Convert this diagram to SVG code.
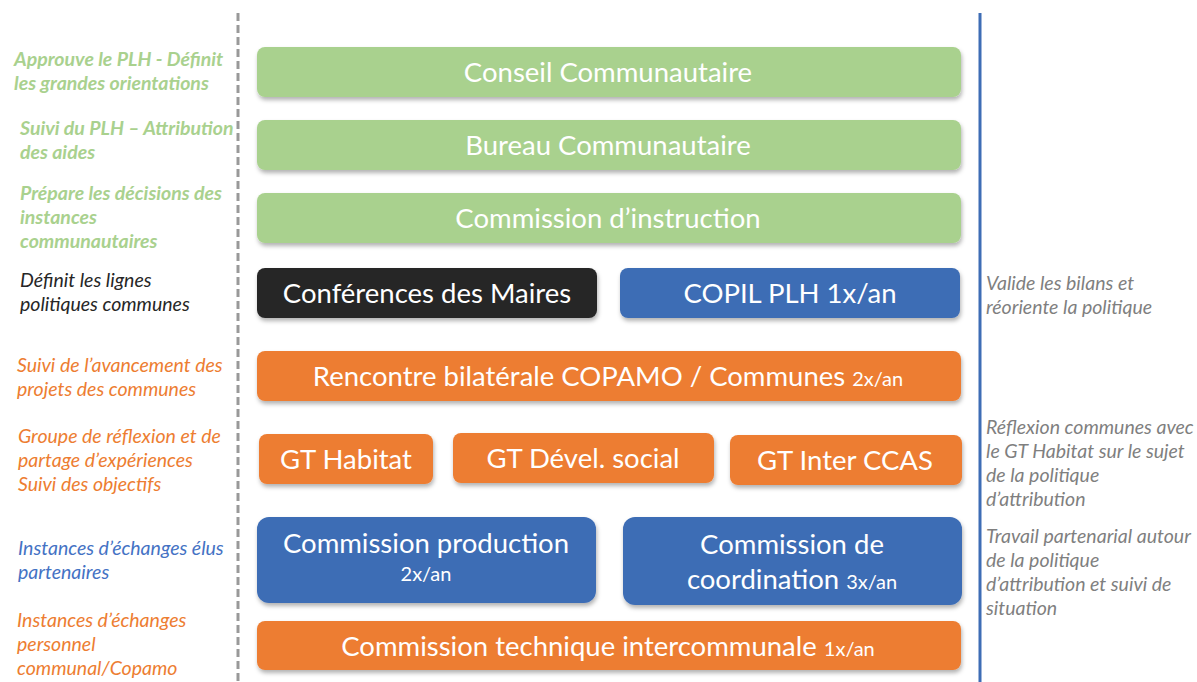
<svg xmlns="http://www.w3.org/2000/svg" width="1197" height="682" viewBox="0 0 1197 682">
<defs>
<filter id="sh" x="-5%" y="-20%" width="110%" height="150%">
<feDropShadow dx="1" dy="3" stdDeviation="2" flood-color="#000" flood-opacity="0.3"/>
</filter>
<style>
.box{filter:url(#sh);}
.g{fill:#A9D18E;}
.o{fill:#ED7D31;}
.b{fill:#3E6DB5;}
.k{fill:#262626;}
.t{font-family:Lato,"Open Sans",sans-serif;font-size:27.5px;fill:#fff;text-anchor:middle;}
.s{font-size:20px;}
.l{font-family:Lato,"Open Sans",sans-serif;font-size:19.5px;font-style:italic;}
.lg{fill:#A9D18E;font-weight:bold;}
.lk{fill:#262626;}
.lo{fill:#ED7D31;}
.lb{fill:#4472C4;}
.r{fill:#7F7F7F;}
</style>
</defs>
<rect width="1197" height="682" fill="#fff"/>
<g id="connectors">
<line x1="238" y1="13" x2="238" y2="682" stroke="#999" stroke-width="3" stroke-dasharray="8 4"/>
<line x1="980" y1="13" x2="980" y2="682" stroke="#3E6DB5" stroke-width="3"/>
</g>
<g id="left-labels" class="l">
<text class="lg" x="14" y="66">Approuve le PLH - Définit</text>
<text class="lg" x="14" y="90">les grandes orientations</text>
<text class="lg" x="20" y="135">Suivi du PLH – Attribution</text>
<text class="lg" x="20" y="159">des aides</text>
<text class="lg" x="20" y="200">Prépare les décisions des</text>
<text class="lg" x="20" y="224">instances</text>
<text class="lg" x="20" y="248">communautaires</text>
<text class="lk" x="20" y="287">Définit les lignes</text>
<text class="lk" x="20" y="311">politiques communes</text>
<text class="lo" x="17" y="372">Suivi de l’avancement des</text>
<text class="lo" x="17" y="396">projets des communes</text>
<text class="lo" x="18" y="443">Groupe de réflexion et de</text>
<text class="lo" x="18" y="467">partage d’expériences</text>
<text class="lo" x="18" y="491">Suivi des objectifs</text>
<text class="lb" x="18" y="555">Instances d’échanges élus</text>
<text class="lb" x="18" y="579">partenaires</text>
<text class="lo" x="17" y="627">Instances d’échanges</text>
<text class="lo" x="17" y="651">personnel</text>
<text class="lo" x="17" y="675">communal/Copamo</text>
</g>
<g id="right-labels" class="l r">
<text x="986" y="290">Valide les bilans et</text>
<text x="986" y="314">réoriente la politique</text>
<text x="986" y="434">Réflexion communes avec</text>
<text x="986" y="458">le GT Habitat sur le sujet</text>
<text x="986" y="482">de la politique</text>
<text x="986" y="506">d’attribution</text>
<text x="986" y="543">Travail partenarial autour</text>
<text x="986" y="567">de la politique</text>
<text x="986" y="591">d’attribution et suivi de</text>
<text x="986" y="615">situation</text>
</g>
<g id="conseil"><rect class="box g" x="257" y="47" width="704" height="50" rx="8"/><text class="t" x="608" y="82">Conseil Communautaire</text></g>
<g id="bureau"><rect class="box g" x="257" y="120" width="704" height="50" rx="8"/><text class="t" x="608" y="155">Bureau Communautaire</text></g>
<g id="instruction"><rect class="box g" x="257" y="193" width="704" height="50" rx="8"/><text class="t" x="608" y="228">Commission d’instruction</text></g>
<g id="maires"><rect class="box k" x="257" y="268" width="340" height="50" rx="8"/><text class="t" x="427" y="303">Conférences des Maires</text></g>
<g id="copil"><rect class="box b" x="620" y="268" width="340" height="50" rx="8"/><text class="t" x="790" y="303">COPIL PLH 1x/an</text></g>
<g id="rencontre"><rect class="box o" x="257" y="351" width="704" height="50" rx="8"/><text class="t" x="608" y="386">Rencontre bilatérale COPAMO / Communes <tspan class="s">2x/an</tspan></text></g>
<g id="gt-habitat"><rect class="box o" x="259" y="434" width="174" height="50" rx="8"/><text class="t" x="346" y="469">GT Habitat</text></g>
<g id="gt-devel"><rect class="box o" x="453" y="433" width="261" height="50" rx="8"/><text class="t" x="583" y="468">GT Dével. social</text></g>
<g id="gt-ccas"><rect class="box o" x="730" y="435" width="232" height="50" rx="8"/><text class="t" x="845" y="470">GT Inter CCAS</text></g>
<g id="production"><rect class="box b" x="257" y="517" width="339" height="86" rx="12"/><text class="t" x="426" y="553">Commission production</text><text class="t s" x="426" y="581">2x/an</text></g>
<g id="coordination"><rect class="box b" x="623" y="517" width="339" height="88" rx="12"/><text class="t" x="792" y="554">Commission de</text><text class="t" x="792" y="589">coordination <tspan class="s">3x/an</tspan></text></g>
<g id="technique"><rect class="box o" x="257" y="621" width="704" height="49" rx="8"/><text class="t" x="608" y="656">Commission technique intercommunale <tspan class="s">1x/an</tspan></text></g>
</svg>
